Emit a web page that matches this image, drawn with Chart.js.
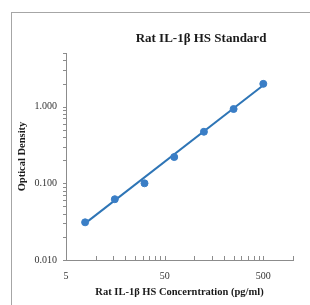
<!DOCTYPE html>
<html>
<head>
<meta charset="utf-8">
<script src="https://cdn.jsdelivr.net/npm/chart.js@4"></script>
<style>
    html, body { margin: 0; padding: 0; background: #fff; }
    #wrap { position: relative; width: 310px; height: 305px; overflow: hidden; }
    #frame { position: absolute; left: 11px; top: 12px; width: 320px; height: 320px; border: 1px solid #a6a6a6; box-sizing: border-box; }
    #c { position: absolute; left: 0; top: 0; }
</style>
</head>
<body>
<div id="wrap">
    <div id="frame"></div>
    <canvas id="c" width="310" height="305"></canvas>
</div>
<script>
// standard concentrations (pg/ml) and measured OD
var concentrations = [7.8125, 15.625, 31.25, 62.5, 125, 250, 500];
var odValues = [0.031, 0.062, 0.100, 0.22, 0.47, 0.93, 1.98];

// fitted trend line ends
var trendX = [7.8125, 500];
var trendY = [0.030, 1.90];

var xMajorTicks = [5, 50, 500];
var yMajorTicks = [0.01, 0.1, 1];
var xMinorTicks = [10, 15, 20, 25, 30, 35, 40, 45, 100, 150, 200, 250, 300, 350, 400, 450, 1000];
var yMinorTicks = [0.02, 0.03, 0.04, 0.05, 0.06, 0.07, 0.08, 0.09, 0.2, 0.3, 0.4, 0.5, 0.6, 0.7, 0.8, 0.9, 2, 3, 4, 5];

var titleText = 'Rat IL-1β HS Standard';
var serif = "'Liberation Serif', 'Times New Roman', serif";

document.addEventListener("DOMContentLoaded", function() {
    var ctx = document.getElementById('c').getContext('2d');

    function toPoints(xs, ys) {
        return xs.map(function(x, i) { return { x: x, y: ys[i] }; });
    }

    function sortedTicks(a, b) {
        return a.concat(b).sort(function(p, q) { return p - q; }).map(function(v) { return { value: v }; });
    }

    // small tick marks: y outside (left), x inside (up)
    var tickMarks = {
        id: 'tickMarks',
        afterDraw: function(chart) {
            var c = chart.ctx, xs = chart.scales.x, ys = chart.scales.y;
            var area = chart.chartArea;
            c.save();
            c.strokeStyle = '#8c8c8c';
            c.lineWidth = 1;
            c.beginPath();
            xMajorTicks.concat(xMinorTicks).forEach(function(v) {
                var px = Math.round(xs.getPixelForValue(v)) + 0.5;
                c.moveTo(px, area.bottom);
                c.lineTo(px, area.bottom - 4);
            });
            yMajorTicks.concat(yMinorTicks).forEach(function(v) {
                var py = Math.round(ys.getPixelForValue(v)) + 0.5;
                c.moveTo(area.left, py);
                c.lineTo(area.left - 3, py);
            });
            c.stroke();

            // chart title
            c.fillStyle = '#1a1a1a';
            c.font = 'bold 13px ' + serif;
            c.textAlign = 'center';
            c.textBaseline = 'middle';
            c.fillText(titleText, 201, 39);
            c.restore();
        }
    };

    var chart = new Chart(ctx, {
        type: 'scatter',
        data: {
            datasets: [
                {
                    label: 'OD',
                    data: toPoints(concentrations, odValues),
                    backgroundColor: '#3a7ec6',
                    borderColor: '#3a7ec6',
                    pointRadius: 3.5,
                    pointHoverRadius: 3.5,
                    order: 0
                },
                {
                    label: 'Fit',
                    data: toPoints(trendX, trendY),
                    showLine: true,
                    borderColor: '#2e75b6',
                    borderWidth: 2,
                    pointRadius: 0,
                    order: 1
                }
            ]
        },
        options: {
            responsive: false,
            animation: false,
            layout: { padding: { left: 16, top: 53, right: 17, bottom: 6 } },
            plugins: {
                legend: { display: false },
                tooltip: { enabled: false },
                title: { display: false }
            },
            scales: {
                x: {
                    type: 'logarithmic',
                    min: 5,
                    max: 1000,
                    grid: { display: false },
                    border: { display: true, color: '#8c8c8c', width: 1 },
                    afterBuildTicks: function(scale) {
                        scale.ticks = sortedTicks(xMajorTicks, xMinorTicks);
                    },
                    afterFit: function(scale) { scale.height = 39; },
                    ticks: {
                        autoSkip: false,
                        maxRotation: 0,
                        padding: 2,
                        color: '#333',
                        font: { family: serif, size: 10 },
                        callback: function(value) {
                            return xMajorTicks.indexOf(value) >= 0 ? String(value) : '';
                        }
                    },
                    title: {
                        display: true,
                        text: 'Rat IL-1β HS Concerntration (pg/ml)',
                        color: '#1a1a1a',
                        font: { family: serif, size: 10.5, weight: 'bold' },
                        padding: { top: 0, bottom: 0 }
                    }
                },
                y: {
                    type: 'logarithmic',
                    min: 0.01,
                    max: 5,
                    grid: { display: false },
                    border: { display: true, color: '#8c8c8c', width: 1 },
                    afterBuildTicks: function(scale) {
                        scale.ticks = sortedTicks(yMajorTicks, yMinorTicks);
                    },
                    afterFit: function(scale) { scale.width = 50; },
                    ticks: {
                        autoSkip: false,
                        padding: 1,
                        color: '#333',
                        font: { family: serif, size: 10 },
                        callback: function(value) {
                            return yMajorTicks.indexOf(value) >= 0 ? value.toFixed(3) : '';
                        }
                    },
                    title: {
                        display: true,
                        text: 'Optical Density',
                        color: '#1a1a1a',
                        font: { family: serif, size: 10.5, weight: 'bold' },
                        padding: { top: 0, bottom: 2 }
                    }
                }
            }
        },
        plugins: [tickMarks]
    });
});
</script>
</body>
</html>
